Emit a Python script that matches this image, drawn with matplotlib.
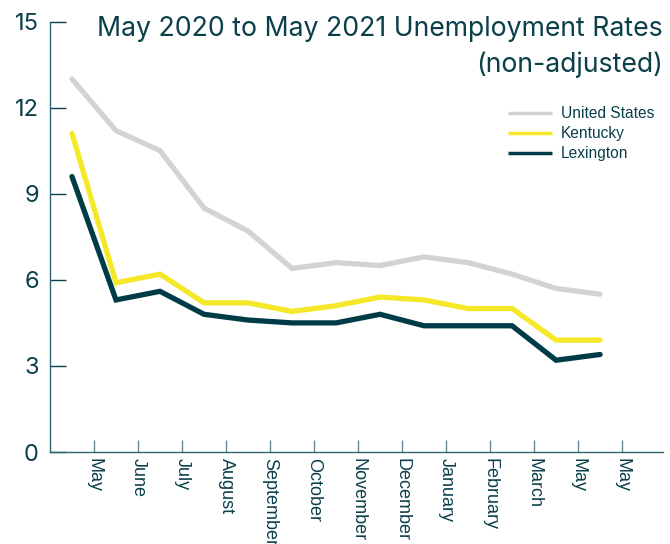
import matplotlib
matplotlib.use("Agg")
import matplotlib.pyplot as plt
import numpy as np

months = ["May", "June", "July", "August", "September", "October", "November",
          "December", "January", "February", "March", "May", "May"]
us = [13.0, 11.2, 10.5, 8.5, 7.7, 6.4, 6.6, 6.5, 6.8, 6.6, 6.2, 5.7, 5.5]
kentucky = [11.1, 5.9, 6.2, 5.2, 5.2, 4.9, 5.1, 5.4, 5.3, 5.0, 5.0, 3.9, 3.9]
lexington = [9.6, 5.3, 5.6, 4.8, 4.6, 4.5, 4.5, 4.8, 4.4, 4.4, 4.4, 3.2, 3.4]
yticks = [0, 3, 6, 9, 12, 15]

teal = "#0b3f4a"
plt.rcParams['font.family'] = ['Inter', 'DejaVu Sans']

fig = plt.figure(figsize=(6.7, 5.44), dpi=100)
ax = fig.add_axes([0.0746, 0.169, 0.915, 0.7914])

x = np.arange(len(us))
ax.plot(x, us, color="#d3d3d3", lw=3.8, solid_capstyle="round", solid_joinstyle="miter", label="United States")
ax.plot(x, kentucky, color="#f4e829", lw=3.8, solid_capstyle="round", solid_joinstyle="miter", label="Kentucky")
ax.plot(x, lexington, color="#003c47", lw=3.8, solid_capstyle="round", solid_joinstyle="miter", label="Lexington")

ax.set_xlim(-0.5, 13.43)
ax.set_ylim(0, 15)
ax.set_yticks(yticks)
ax.set_yticklabels([str(v) for v in yticks], fontsize=17, color=teal)
ax.set_xticks(x + 0.5)
ax.set_xticklabels(months, rotation=270, fontsize=13, color=teal,
                   family=['Liberation Sans', 'DejaVu Sans'])

for s in ["top", "right"]:
    ax.spines[s].set_visible(False)
for s in ["left", "bottom"]:
    ax.spines[s].set_color("#2f6470")
    ax.spines[s].set_linewidth(1.0)
ax.tick_params(axis="y", direction="in", length=11.5, width=1, color=teal, pad=8)
ax.tick_params(axis="x", direction="in", length=9, width=1, color="#5f8891", pad=4)

fig.text(0.9896, 1 - 36 / 544, "May 2020 to May 2021 Unemployment Rates",
         ha="right", va="baseline", fontsize=19.2, color=teal)
fig.text(0.9896, 1 - 72 / 544, "(non-adjusted)",
         ha="right", va="baseline", fontsize=19.2, color=teal)

leg = ax.legend(loc="upper left", bbox_to_anchor=(508 / 670, 1 - 106 / 544),
                bbox_transform=fig.transFigure, frameon=False, borderpad=0,
                borderaxespad=0, prop={'family': ['Liberation Sans', 'DejaVu Sans'], 'size': 11.2},
                handlelength=2.84, handletextpad=0.58, labelspacing=0.33,
                labelcolor=teal)
for line in leg.get_lines():
    line.set_linewidth(2.5)
    line.set_solid_capstyle("butt")

fig.savefig("out.png", dpi=100)
